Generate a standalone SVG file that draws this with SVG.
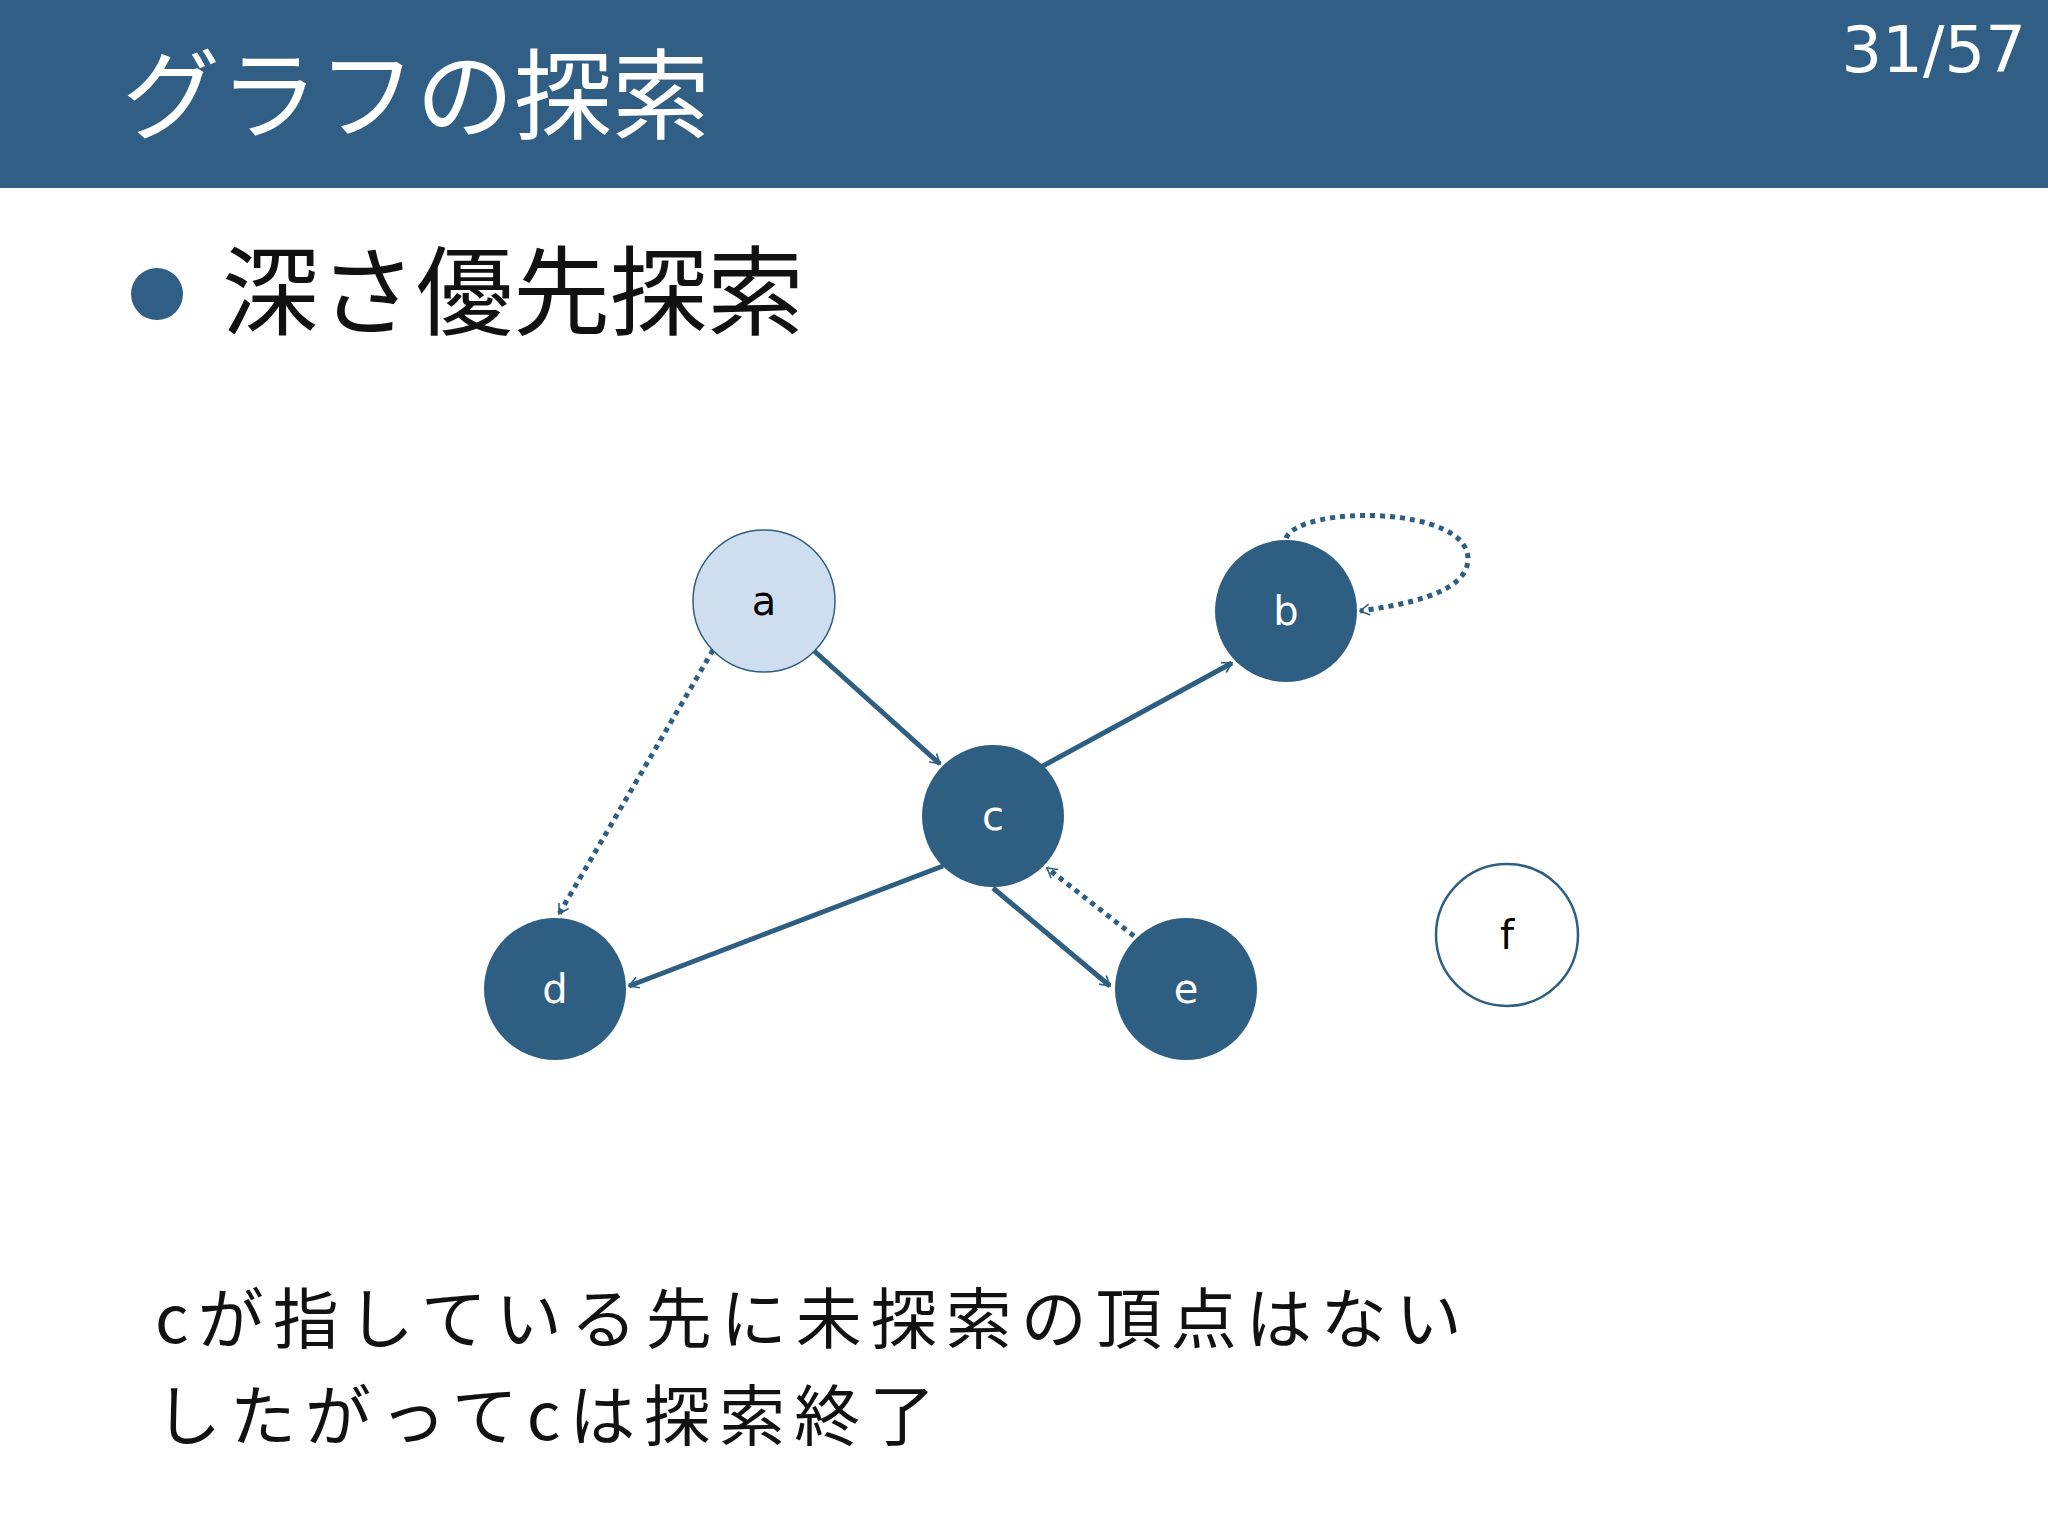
<svg xmlns="http://www.w3.org/2000/svg" width="2048" height="1536" viewBox="0 0 2048 1536">
<style>
.jp{font-family:"Noto Sans CJK JP","Noto Sans",sans-serif}
.lbl{font-family:"DejaVu Sans",Verdana,sans-serif;font-size:40px;text-anchor:middle}
.e{fill:none;stroke:#2f5e83;stroke-width:5}
.dot{stroke-dasharray:5 5}
.dk{fill:#2f5e83}
</style>
<defs>
<marker id="ar" viewBox="0 0 20 20" refX="18" refY="10" markerWidth="8" markerHeight="8" orient="auto" markerUnits="userSpaceOnUse" style="overflow:visible">
<path d="M-6,-4 L18,10 L-6,24" fill="none" stroke="#2f5e83" stroke-width="4"/>
</marker>
</defs>
<rect width="2048" height="1536" fill="#fff"/>
<rect width="2048" height="188" fill="#305e84"/>
<text x="122" y="131" class="jp" font-size="98" fill="#fff">グラフの探索</text>
<text x="2026" y="72" font-family="DejaVu Sans,sans-serif" font-size="64" fill="#fff" text-anchor="end">31/57</text>
<circle cx="157" cy="294" r="26" fill="#305e84"/>
<text x="222" y="327" class="jp" font-size="97" fill="#111">深さ優先探索</text>
<g id="edges">
<path class="e" d="M812,649 L940,764" marker-end="url(#ar)"/>
<path class="e" d="M1041,767 L1232,663" marker-end="url(#ar)"/>
<path class="e" d="M943,866 L629,986" marker-end="url(#ar)"/>
<path class="e" d="M993,888 L1110,986" marker-end="url(#ar)"/>
<path class="e dot" d="M1134,936 L1047,868" marker-end="url(#ar)"/>
<path class="e dot" d="M713,650 L559,914" marker-end="url(#ar)"/>
<path class="e dot" d="M1286,538 C1300,505 1470,505 1468,560 C1466,595 1400,605 1360,611" marker-end="url(#ar)"/>
</g>
<g id="a"><circle cx="764" cy="601" r="71" fill="#cfdeee" stroke="#2f5e83" stroke-width="1.5"/><text x="764" y="615" class="lbl" fill="#000">a</text></g>
<g id="b"><circle cx="1286" cy="611" r="71" class="dk"/><text x="1286" y="625" class="lbl" fill="#fff">b</text></g>
<g id="c"><circle cx="993" cy="816" r="71" class="dk"/><text x="993" y="830" class="lbl" fill="#fff">c</text></g>
<g id="d"><circle cx="555" cy="989" r="71" class="dk"/><text x="555" y="1003" class="lbl" fill="#fff">d</text></g>
<g id="e"><circle cx="1186" cy="989" r="71" class="dk"/><text x="1186" y="1003" class="lbl" fill="#fff">e</text></g>
<g id="f"><circle cx="1507" cy="935" r="71" fill="#fff" stroke="#2f5e83" stroke-width="2.5"/><text x="1507" y="949" class="lbl" fill="#000">f</text></g>
<text x="155" y="1343" class="jp" font-size="66" fill="#111" letter-spacing="9">cが指している先に未探索の頂点はない</text>
<text x="155" y="1440" class="jp" font-size="66" fill="#111" letter-spacing="9">したがってcは探索終了</text>
</svg>
